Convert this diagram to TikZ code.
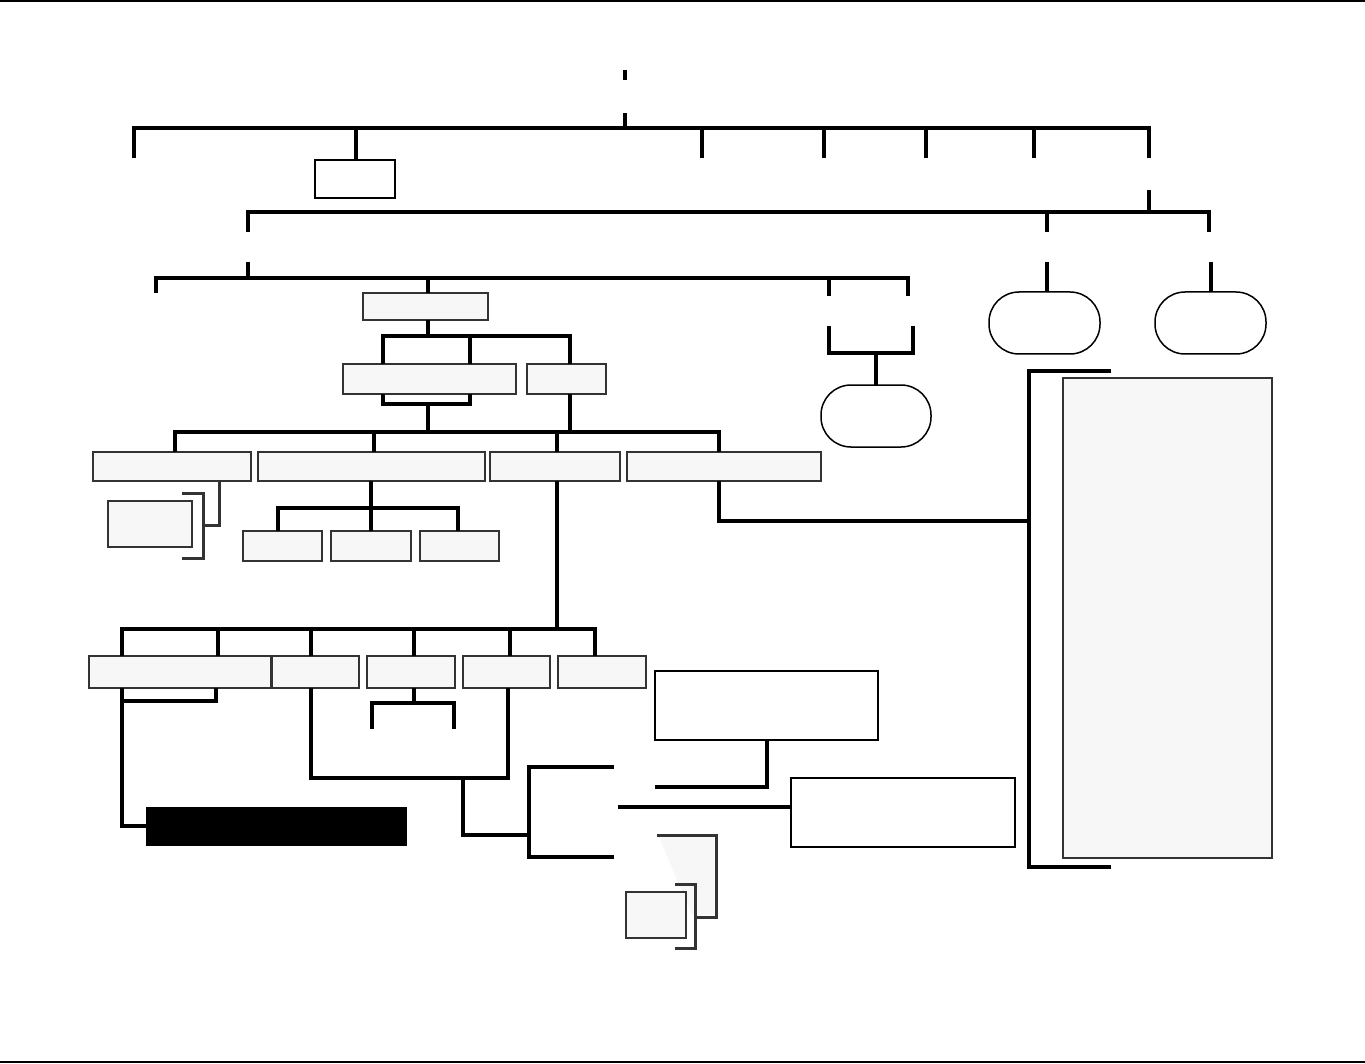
\documentclass[tikz,border=0pt]{standalone}
\definecolor{gfill}{HTML}{F7F7F7}
\definecolor{gline}{HTML}{333333}
\newcommand{\boxnode}[6]{%
  \node[#1, minimum width={(#5-#3)*1pt}, minimum height={(#6-#4)*1pt}] (#2) at ({(#3+#5)/2},{(#4+#6)/2}) {};}
\begin{document}
\begin{tikzpicture}[x=1pt,y=-1pt,
  gbox/.style={draw=gline, fill=gfill, line width=2pt, inner sep=0pt, outer sep=0pt},
  wbox/.style={draw=black, fill=white, line width=1.5pt, inner sep=0pt, outer sep=0pt},
  bbox/.style={draw=black, fill=black, line width=1pt, inner sep=0pt, outer sep=0pt},
  pill/.style={draw=black, fill=white, line width=1.5pt, inner sep=0pt, outer sep=0pt, rounded corners=30pt},
  conn/.style={draw=black, line width=3.5pt, line join=miter},
  gconn/.style={draw=gline, line width=3pt, line join=miter}]
\useasboundingbox (0,0) rectangle (1365,1064);
\fill[white] (0,0) rectangle (1365,1064);
% page rules
\draw[line width=2pt] (0,1) -- (1365,1);
\draw[line width=2pt] (0,1062) -- (1365,1062);

% nodes
\boxnode{wbox}{A}{315}{160}{395}{198}
\boxnode{gbox}{B}{363}{293}{488}{320}
\boxnode{gbox}{C}{343}{364}{516}{394}
\boxnode{gbox}{D}{527}{364}{606}{394}
\boxnode{gbox}{F1}{93}{452}{251}{481}
\boxnode{gbox}{F2}{258}{452}{485}{481}
\boxnode{gbox}{F3}{490}{452}{620}{481}
\boxnode{gbox}{F4}{627}{452}{821}{481}
\boxnode{gbox}{G}{108}{501}{192}{547}
\boxnode{gbox}{H1}{243}{531}{322}{561}
\boxnode{gbox}{H2}{331}{531}{411}{561}
\boxnode{gbox}{H3}{420}{531}{499}{561}
\boxnode{gbox}{I1}{89}{656}{271}{688}
\boxnode{gbox}{I2}{272}{656}{359}{688}
\boxnode{gbox}{I3}{367}{656}{455}{688}
\boxnode{gbox}{I4}{463}{656}{550}{688}
\boxnode{gbox}{I5}{558}{656}{646}{688}
\boxnode{bbox}{J}{146}{807}{406}{845}
\boxnode{wbox}{L}{655}{671}{878}{740}
\boxnode{wbox}{M}{791}{778}{1015}{847}
\fill[gfill] (659,837) -- (714,837) -- (714,915) -- (692,915) -- cycle;
\boxnode{gbox}{O}{626}{892}{686}{938}
\boxnode{gbox}{Q}{1063}{378}{1272}{858}
\boxnode{pill}{E1}{821}{385}{931}{447}
\boxnode{pill}{E2}{989}{292}{1100}{354}
\boxnode{pill}{E3}{1155}{292}{1266}{354}

% top level
\draw[conn] (625,70) -- (625,80);
\coordinate (top) at (625,128);
\draw[conn] (625,113) -- (top);
\draw[conn] (134,158) -- (134,128) -- (1149,128) -- (1149,158);
\draw[conn] (356,128) -- (A.north -| 356,0);
\foreach \x in {702,824,926,1034} \draw[conn] (\x,128) -- (\x,158);

% second level
\draw[conn] (1149,190) -- (1149,212);
\draw[conn] (248,232) -- (248,212) -- (1209,212) -- (1209,232);
\draw[conn] (1047,212) -- (1047,232);
\draw[conn] (1047,262) -- (E2.north -| 1047,0);
\draw[conn] (1211,262) -- (E3.north -| 1211,0);

% third level
\draw[conn] (248,262) -- (248,278);
\draw[conn] (156,293) -- (156,278) -- (908,278) -- (908,296);
\draw[conn] (428,278) -- (B.north -| 428,0);
\draw[conn] (829,278) -- (829,296);
\draw[conn] (829,326) -- (829,353) -- (913,353) -- (913,326);
\draw[conn] (876,353) -- (E1.north);

% B -> C, D
\draw[conn] (B.south -| 428,0) -- (428,336);
\draw[conn] (383,364) -- (383,336) -- (570,336) -- (570,364);
\draw[conn] (470,336) -- (470,364);
\draw[conn] (383,394) -- (383,404) -- (470,404) -- (470,394);
\draw[conn] (428,404) -- (428,432);
\draw[conn] (570,394) -- (570,432);

% F row
\draw[conn] (175,452) -- (175,432) -- (719,432) -- (719,452);
\draw[conn] (374,432) -- (374,452);
\draw[conn] (557,432) -- (557,452);

% F1 -> G bracket
\draw[gconn] (219,481) -- (219,525) -- (203,525);
\draw[gconn] (182,493) -- (203,493) -- (203,558) -- (182,558);

% F2 -> H
\draw[conn] (371,481) -- (371,508);
\draw[conn] (278,531) -- (278,508) -- (458,508) -- (458,531);
\draw[conn] (371,508) -- (H2.north);

% F3 -> I
\draw[conn] (F3.south -| 557,0) -- (557,629);
\draw[conn] (122,656) -- (122,629) -- (595,629) -- (595,656);
\foreach \x in {218,311,414,510} \draw[conn] (\x,629) -- (\x,656);

% I1 -> J
\draw[conn] (122,688) -- (122,701) -- (216,701) -- (216,688);
\draw[conn] (122,701) -- (122,826) -- (J.west);

% I2, I4 -> K
\draw[conn] (311,688) -- (311,778) -- (508,778) -- (508,688);
\draw[conn] (463,778) -- (463,835) -- (529,835);
\draw[conn] (414,688) -- (414,703);
\draw[conn] (372,729) -- (372,703) -- (454,703) -- (454,729);
\draw[conn] (614,767) -- (529,767) -- (529,857) -- (614,857);
\draw[conn] (618,807) -- (791,807);
\draw[conn] (L.south -| 767,0) -- (767,787) -- (655,787);

% O bracket
\draw[gconn] (657,835) -- (716,835) -- (716,917) -- (697,917);
\draw[gconn] (675,884) -- (695,884) -- (695,948) -- (675,948);

% F4 -> P bracket
\draw[conn] (F4.south -| 719,0) -- (719,521) -- (1029,521);
\draw[conn] (1111,371) -- (1029,371) -- (1029,867) -- (1111,867);
\end{tikzpicture}
\end{document}
